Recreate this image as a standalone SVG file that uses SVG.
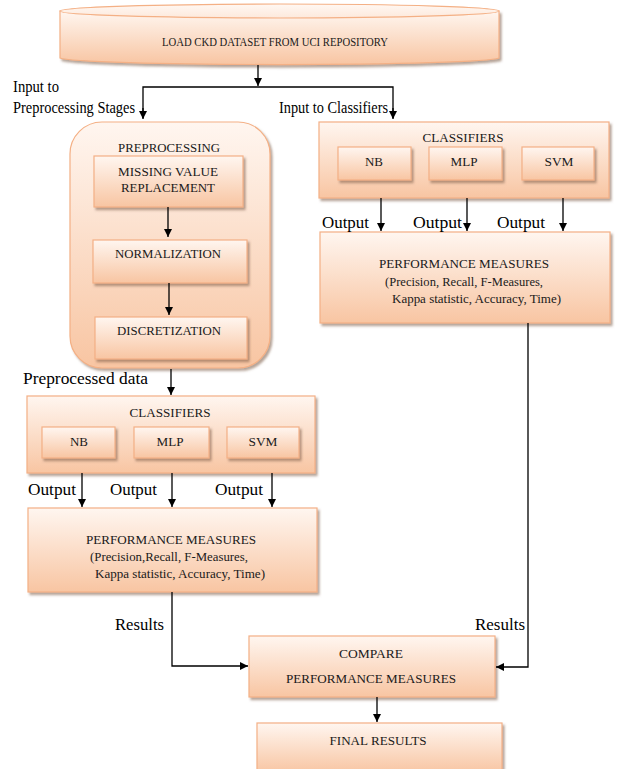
<svg xmlns="http://www.w3.org/2000/svg" width="617" height="769" viewBox="0 0 617 769">
<defs>
<linearGradient id="g" x1="0" y1="0" x2="0" y2="1">
<stop offset="0" stop-color="#fff6f0"/>
<stop offset="1" stop-color="#f8c5a2"/>
</linearGradient>
<linearGradient id="gtop" x1="0" y1="0" x2="0" y2="1">
<stop offset="0" stop-color="#fff8f3"/>
<stop offset="1" stop-color="#fde9dc"/>
</linearGradient>
<filter id="sh" x="-5%" y="-5%" width="115%" height="125%">
<feDropShadow dx="2" dy="2.5" stdDeviation="1" flood-color="#7a5a45" flood-opacity="0.55"/>
</filter>
<marker id="ah" viewBox="0 0 10 10" refX="10" refY="5" markerWidth="8" markerHeight="8" markerUnits="userSpaceOnUse" orient="auto">
<path d="M0,0 L10,5 L0,10 Z" fill="#000"/>
</marker>
</defs>
<style>
.box{fill:url(#g);stroke:#f4b085;stroke-width:1.2;filter:url(#sh)}
.t{font-family:"Liberation Serif","Times New Roman",serif;font-size:13.5px;fill:#1a1a1a;text-anchor:middle}
.s{font-family:"Liberation Serif","Times New Roman",serif;font-size:13px;fill:#1a1a1a}
.l{font-family:"Liberation Serif","Times New Roman",serif;font-size:17.5px;fill:#000}
.c{fill:none;stroke:#000;stroke-width:1.3}
</style>
<rect width="617" height="769" fill="#fff"/>

<g id="load">
<path d="M60,11 L60,58 A220,7 0 0 0 499,58 L499,11 Z" class="box"/>
<ellipse cx="279.5" cy="11" rx="219.5" ry="7" fill="url(#gtop)" stroke="#f4b085" stroke-width="1.2"/>
<text x="275" y="46" class="t" textLength="226" lengthAdjust="spacingAndGlyphs">LOAD CKD DATASET FROM UCI REPOSITORY</text>
</g>

<g id="preprocessing">
<rect x="70" y="122" width="200" height="246" rx="32" class="box"/>
<text x="169" y="152" class="t" textLength="102" lengthAdjust="spacingAndGlyphs">PREPROCESSING</text>
</g>
<g id="missing">
<rect x="94" y="156" width="149" height="51" class="box"/>
<text x="168" y="176" class="t" textLength="100" lengthAdjust="spacingAndGlyphs">MISSING VALUE</text>
<text x="168" y="192" class="t" textLength="94" lengthAdjust="spacingAndGlyphs">REPLACEMENT</text>
</g>
<g id="normalization">
<rect x="93" y="240" width="154" height="43" class="box"/>
<text x="168" y="258" class="t" textLength="106" lengthAdjust="spacingAndGlyphs">NORMALIZATION</text>
</g>
<g id="discretization">
<rect x="95" y="317" width="152" height="42" class="box"/>
<text x="169" y="335" class="t" textLength="104" lengthAdjust="spacingAndGlyphs">DISCRETIZATION</text>
</g>

<g id="classifiers-left">
<rect x="27" y="396" width="288" height="77" class="box"/>
<text x="170" y="417" class="t" textLength="81" lengthAdjust="spacingAndGlyphs">CLASSIFIERS</text>
</g>
<g id="nb-left"><rect x="42" y="427" width="73" height="31" class="box"/><text x="79" y="446" class="t" textLength="18" lengthAdjust="spacingAndGlyphs">NB</text></g>
<g id="mlp-left"><rect x="134" y="427" width="75" height="31" class="box"/><text x="170" y="446" class="t" textLength="27" lengthAdjust="spacingAndGlyphs">MLP</text></g>
<g id="svm-left"><rect x="227" y="427" width="72" height="31" class="box"/><text x="263" y="446" class="t" textLength="29" lengthAdjust="spacingAndGlyphs">SVM</text></g>

<g id="perf-left">
<rect x="28" y="508" width="289" height="84" class="box"/>
<text x="171" y="544" class="t" textLength="170" lengthAdjust="spacingAndGlyphs">PERFORMANCE MEASURES</text>
<text x="90" y="561" class="s" textLength="158" lengthAdjust="spacingAndGlyphs">(Precision,Recall, F-Measures,</text>
<text x="95" y="578" class="s" textLength="170" lengthAdjust="spacingAndGlyphs">Kappa statistic, Accuracy, Time)</text>
</g>

<g id="classifiers-right">
<rect x="319" y="122" width="290" height="76" class="box"/>
<text x="463" y="142" class="t" textLength="81" lengthAdjust="spacingAndGlyphs">CLASSIFIERS</text>
</g>
<g id="nb-right"><rect x="338" y="147" width="73" height="33" class="box"/><text x="374" y="166" class="t" textLength="18" lengthAdjust="spacingAndGlyphs">NB</text></g>
<g id="mlp-right"><rect x="429" y="147" width="73" height="33" class="box"/><text x="464" y="166" class="t" textLength="27" lengthAdjust="spacingAndGlyphs">MLP</text></g>
<g id="svm-right"><rect x="522" y="147" width="72" height="33" class="box"/><text x="559" y="166" class="t" textLength="29" lengthAdjust="spacingAndGlyphs">SVM</text></g>

<g id="perf-right">
<rect x="320" y="232" width="290" height="91" class="box"/>
<text x="464" y="268" class="t" textLength="170" lengthAdjust="spacingAndGlyphs">PERFORMANCE MEASURES</text>
<text x="385" y="286" class="s" textLength="158" lengthAdjust="spacingAndGlyphs">(Precision, Recall, F-Measures,</text>
<text x="392" y="303" class="s" textLength="169" lengthAdjust="spacingAndGlyphs">Kappa statistic, Accuracy, Time)</text>
</g>

<g id="compare">
<rect x="249" y="636" width="246" height="61" class="box"/>
<text x="371" y="658" class="t" textLength="64" lengthAdjust="spacingAndGlyphs">COMPARE</text>
<text x="371" y="683" class="t" textLength="170" lengthAdjust="spacingAndGlyphs">PERFORMANCE MEASURES</text>
</g>
<g id="final">
<rect x="257" y="723" width="245" height="50" class="box"/>
<text x="378" y="745" class="t" textLength="97" lengthAdjust="spacingAndGlyphs">FINAL RESULTS</text>
</g>

<g id="connectors">
<path class="c" d="M258,65 V86" marker-end="url(#ah)"/>
<path class="c" d="M143,118 V87 H393 V118"/>
<path class="c" d="M143,108 V119" marker-end="url(#ah)"/>
<path class="c" d="M393,108 V119" marker-end="url(#ah)"/>
<path class="c" d="M168,207 V237" marker-end="url(#ah)"/>
<path class="c" d="M169,283 V315" marker-end="url(#ah)"/>
<path class="c" d="M171,369 V395" marker-end="url(#ah)"/>
<path class="c" d="M82,473 V507" marker-end="url(#ah)"/>
<path class="c" d="M172,473 V507" marker-end="url(#ah)"/>
<path class="c" d="M272,473 V507" marker-end="url(#ah)"/>
<path class="c" d="M381,198 V231" marker-end="url(#ah)"/>
<path class="c" d="M467,198 V231" marker-end="url(#ah)"/>
<path class="c" d="M563,198 V231" marker-end="url(#ah)"/>
<path class="c" d="M172,592 V666 H248" marker-end="url(#ah)"/>
<path class="c" d="M528,323 V667 H496" marker-end="url(#ah)"/>
<path class="c" d="M377,697 V722" marker-end="url(#ah)"/>
</g>

<g id="labels">
<text x="13" y="92" class="l" textLength="46" lengthAdjust="spacingAndGlyphs">Input to</text>
<text x="13" y="113" class="l" textLength="122" lengthAdjust="spacingAndGlyphs">Preprocessing Stages</text>
<text x="279" y="113" class="l" textLength="109" lengthAdjust="spacingAndGlyphs">Input to Classifiers</text>
<text x="23" y="384" class="l" textLength="125" lengthAdjust="spacingAndGlyphs">Preprocessed data</text>
<text x="28" y="495" class="l" textLength="48" lengthAdjust="spacingAndGlyphs">Output</text>
<text x="110" y="495" class="l" textLength="47" lengthAdjust="spacingAndGlyphs">Output</text>
<text x="215" y="495" class="l" textLength="48" lengthAdjust="spacingAndGlyphs">Output</text>
<text x="322" y="228" class="l" textLength="47" lengthAdjust="spacingAndGlyphs">Output</text>
<text x="413" y="228" class="l" textLength="49" lengthAdjust="spacingAndGlyphs">Output</text>
<text x="497" y="228" class="l" textLength="48" lengthAdjust="spacingAndGlyphs">Output</text>
<text x="115" y="630" class="l" textLength="49" lengthAdjust="spacingAndGlyphs">Results</text>
<text x="475" y="630" class="l" textLength="50" lengthAdjust="spacingAndGlyphs">Results</text>
</g>
</svg>
